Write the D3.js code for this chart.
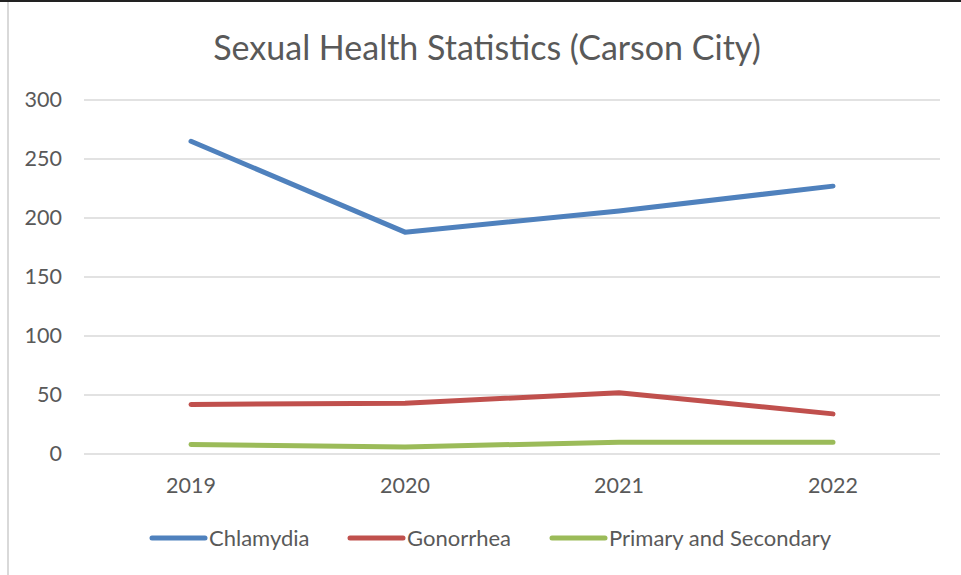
<!DOCTYPE html>
<html><head><meta charset="utf-8">
<script src="https://cdn.jsdelivr.net/npm/d3@7"></script>
<style>body{margin:0;background:#fff}svg{display:block}text{font-family:Lato,"Open Sans",sans-serif;fill:#595959}</style>
</head><body>
<svg id="c" width="961" height="575"></svg>
<script>
const years = ["2019","2020","2021","2022"];
const seriesNames = ["Chlamydia","Gonorrhea","Primary and Secondary"];
const chlamydia = [265,188,206,227];
const gonorrhea = [42,43,52,34];
const primarySecondary = [8,6,10,10];
const yTicks = [0,50,100,150,200,250,300];
const colors = ["#4f81bd","#c0504d","#9bbb59"];
const title = "Sexual Health Statistics (Carson City)";

const svg = d3.select("#c");
svg.append("rect").attr("x",0).attr("y",0).attr("width",961).attr("height",2).attr("fill","#222");
svg.append("rect").attr("x",7).attr("y",2).attr("width",2).attr("height",573).attr("fill","#d9d9d9");

const x = d3.scaleBand().domain(years).range([84,940]);
const y = d3.scaleLinear().domain([0,300]).range([454,100]);

svg.append("text").attr("x",487).attr("y",60).attr("text-anchor","middle")
  .attr("font-size",34).text(title);

const g = svg.append("g");
g.selectAll("line.grid").data(yTicks).enter().append("line")
  .attr("x1",84).attr("x2",940).attr("y1",d=>y(d)).attr("y2",d=>y(d))
  .attr("stroke","#d9d9d9").attr("stroke-width",1.3);

const yAxis = d3.axisLeft(y).tickValues(yTicks).tickSize(0).tickPadding(0);
const ya = svg.append("g").attr("transform","translate(62,0)").call(yAxis);
ya.select(".domain").remove();
ya.selectAll("text").attr("font-size",21.5).attr("fill","#595959").attr("font-family","Lato");

const xAxis = d3.axisBottom(x).tickSize(0).tickPadding(0);
const xa = svg.append("g").attr("transform","translate(0,478)").call(xAxis);
xa.select(".domain").remove();
xa.selectAll("text").attr("font-size",21.5).attr("fill","#595959").attr("font-family","Lato");

const data = [chlamydia,gonorrhea,primarySecondary];
const line = d3.line().x((d,i)=>x(years[i])+x.bandwidth()/2).y(d=>y(d));
data.forEach((s,k)=>{
  svg.append("path").attr("d",line(s)).attr("fill","none").attr("stroke",colors[k])
    .attr("stroke-width",5).attr("stroke-linecap","round").attr("stroke-linejoin","round");
});

const legX = [152,350,552];
seriesNames.forEach((n,k)=>{
  svg.append("line").attr("x1",legX[k]).attr("x2",legX[k]+53).attr("y1",538).attr("y2",538)
    .attr("stroke",colors[k]).attr("stroke-width",5).attr("stroke-linecap","round");
  svg.append("text").attr("x",legX[k]+57).attr("y",546).attr("font-size",22).text(n);
});
</script>
</body></html>
